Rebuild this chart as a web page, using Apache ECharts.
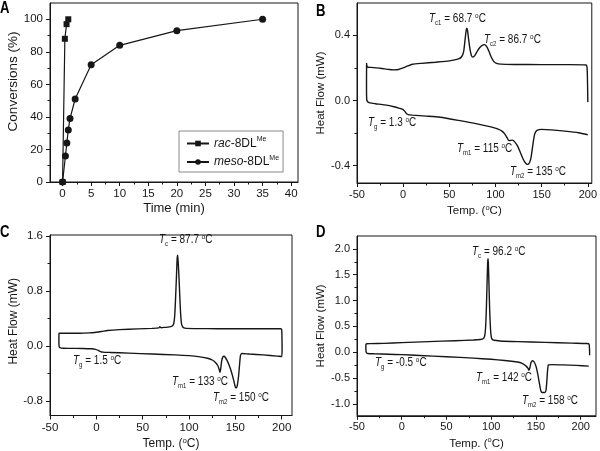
<!DOCTYPE html>
<html><head><meta charset="utf-8">
<script src="https://cdn.jsdelivr.net/npm/echarts@6/dist/echarts.min.js"></script>
<style>html,body{margin:0;padding:0;background:#fff}#c{width:600px;height:451px}</style>
</head><body><div id="c"></div>
<script>
// ---------- Panel A data ----------
const racTime = [0, 0.4, 0.7, 1.0];
const racConv = [0, 88, 97, 100];
const mesoTime = [0, 0.5, 0.75, 1.0, 1.3, 2.2, 5, 10, 20, 35];
const mesoConv = [0, 16, 24, 32, 39, 51, 72, 84, 93, 100];
const timeMajor = [0, 5, 10, 15, 20, 25, 30, 35, 40];
const timeMinor = [2.5, 7.5, 12.5, 17.5, 22.5, 27.5, 32.5, 37.5];
const convMajor = [0, 20, 40, 60, 80, 100];
const convMinor = [10, 30, 50, 70, 90];

// ---------- DSC ticks ----------
const tempMajor = [-50, 0, 50, 100, 150, 200];
const tempMinor = [-25, 25, 75, 125, 175];
const heatMajorB = [-0.4, 0, 0.4];
const heatMinorB = [-0.2, 0.2];
const heatMajorC = [-0.8, 0, 0.8, 1.6];
const heatMinorC = [-0.4, 0.4, 1.2];
const heatMajorD = [-1, -0.5, 0, 0.5, 1, 1.5, 2];
const heatMinorD = [-0.75, -0.25, 0.25, 0.75, 1.25, 1.75];

// ---------- Panel B trace [temp, heat flow] ----------
const dscB = [
[200,-0.01],[199.7,0.1],[199.2,0.2],[198,0.218],[180,0.22],[150,0.22],[120,0.221],[106,0.223],[101,0.228],[98,0.24],[95.5,0.265],[93,0.3],[90.5,0.33],[88,0.343],[86,0.34],[83,0.325],[80,0.3],[77.5,0.275],[75.5,0.267],[74,0.275],[72.5,0.31],[71,0.37],[69.7,0.43],[68.9,0.443],[68,0.42],[66.8,0.36],[65.5,0.3],[63.5,0.27],[60,0.255],[50,0.243],[35,0.235],[20,0.228],[10,0.222],[5,0.212],[0,0.2],[-5,0.19],[-10,0.188],[-15,0.19],[-25,0.198],[-35,0.203],[-38.5,0.205],[-39.4,0.215],[-39.6,0.228],[-39.7,0.1],[-39.5,0.01],[-38.5,-0.008],[-36,-0.015],[-30,-0.02],[-20,-0.027],[-10,-0.038],[-4,-0.048],[0,-0.056],[2,-0.068],[3.5,-0.08],[5.5,-0.087],[10,-0.09],[25,-0.096],[40,-0.103],[60,-0.122],[80,-0.143],[95,-0.162],[103,-0.175],[107,-0.188],[110,-0.205],[112.5,-0.228],[114.5,-0.246],[116,-0.245],[118.5,-0.243],[121,-0.255],[124,-0.28],[127,-0.32],[130,-0.36],[132.5,-0.383],[134.5,-0.392],[136.5,-0.385],[138.5,-0.35],[140.5,-0.27],[142.5,-0.205],[145,-0.183],[150,-0.177],[160,-0.18],[175,-0.188],[190,-0.198],[200,-0.21]
];
// ---------- Panel C trace ----------
const dscC = [
[-38.5,-0.03],[-30,-0.035],[-15,-0.037],[-5,-0.042],[-1,-0.05],[2,-0.065],[4.5,-0.082],[7,-0.09],[15,-0.095],[35,-0.105],[60,-0.118],[85,-0.13],[100,-0.142],[112,-0.16],[120,-0.18],[125,-0.205],[128.5,-0.24],[131,-0.285],[132.5,-0.34],[133.4,-0.385],[134.2,-0.33],[135.2,-0.22],[136.5,-0.16],[137.7,-0.15],[139,-0.165],[141,-0.21],[143.5,-0.29],[146,-0.39],[148,-0.49],[149.5,-0.58],[150.7,-0.615],[152,-0.58],[153.3,-0.46],[154.5,-0.28],[155.5,-0.14],[157,-0.11],[165,-0.118],[180,-0.13],[195,-0.148],[200,-0.155],[200.4,-0.05],[200.3,0.1],[200,0.235],[199,0.25],[185,0.25],[160,0.25],[130,0.251],[110,0.252],[97,0.255],[94.5,0.262],[93,0.28],[91.8,0.33],[90.8,0.5],[89.8,0.8],[88.8,1.1],[88,1.28],[87.6,1.32],[87.1,1.25],[86.4,1.0],[85.5,0.7],[84.6,0.45],[83.6,0.33],[82,0.29],[79,0.278],[74,0.27],[70,0.265],[68.5,0.28],[67.5,0.262],[60,0.255],[45,0.248],[25,0.237],[12,0.225],[6,0.212],[0,0.2],[-8,0.19],[-18,0.185],[-30,0.185],[-39.5,0.185],[-40.3,0.175],[-40.4,0.05],[-40,-0.015],[-38.5,-0.03]
];
// ---------- Panel D trace ----------
const dscD = [
[210,-0.06],[209.8,0.08],[209.3,0.155],[207,0.168],[190,0.175],[160,0.19],[130,0.205],[110,0.218],[103,0.23],[101,0.25],[100,0.3],[99.2,0.45],[98.3,0.8],[97.5,1.3],[96.8,1.72],[96.4,1.81],[96,1.72],[95.3,1.3],[94.5,0.8],[93.6,0.45],[92.5,0.3],[91,0.26],[88,0.245],[80,0.235],[60,0.222],[30,0.205],[0,0.185],[-20,0.17],[-35,0.165],[-39,0.163],[-40,0.15],[-40.1,0.05],[-39.6,-0.005],[-38,-0.025],[-30,-0.032],[-15,-0.04],[0,-0.048],[20,-0.063],[50,-0.088],[80,-0.115],[100,-0.138],[115,-0.16],[125,-0.18],[132,-0.2],[136,-0.23],[139,-0.27],[141,-0.31],[142.2,-0.35],[143.2,-0.3],[144.5,-0.2],[146.3,-0.165],[148,-0.19],[150,-0.27],[152,-0.42],[154,-0.62],[155.5,-0.75],[157,-0.78],[160,-0.78],[161.3,-0.73],[162.2,-0.55],[163,-0.35],[164,-0.245],[168,-0.24],[180,-0.245],[195,-0.255],[209,-0.27]
];

// ---------- annotations [subscript, value] ----------
const annB = [['c1','68.7'],['c2','86.7'],['g','1.3'],['m1','115'],['m2','135']];
const annC = [['c','87.7'],['g','1.5'],['m1','133'],['m2','150']];
const annD = [['c','96.2'],['g','-0.5'],['m1','142'],['m2','158']];

const FONT = '"Liberation Sans", Arial, Helvetica, sans-serif';
const INK = '#161616';

function nameRich(fs) {
  return {
    n: {fontSize: fs, fontFamily: FONT, color: INK, lineHeight: fs + 3},
    o: {fontSize: fs * 0.65, fontFamily: FONT, color: INK, lineHeight: fs * 0.65, verticalAlign: 'top'}
  };
}

function xAxes(g, min, max, major, minor, name, gap, tfs, nfs) {
  return [{
    type: 'value', gridIndex: g, position: 'bottom', min: min, max: max,
    axisLine: {show: true, onZero: false, lineStyle: {color: INK, width: 1}},
    axisTick: {show: true, customValues: major, length: 4, lineStyle: {color: INK}},
    axisLabel: {show: true, customValues: major, color: INK, fontSize: tfs, fontFamily: FONT, margin: 6},
    splitLine: {show: false},
    name: name, nameLocation: 'middle', nameGap: gap,
    nameTextStyle: {fontSize: nfs, fontFamily: FONT, color: INK, rich: nameRich(nfs)}
  }, {
    type: 'value', gridIndex: g, position: 'bottom', min: min, max: max,
    axisLine: {show: false, onZero: false},
    axisTick: {show: true, customValues: minor, length: 2.5, lineStyle: {color: INK}},
    axisLabel: {show: false}, splitLine: {show: false}
  }];
}
function yAxes(g, min, max, major, minor, name, gap, fmt, tfs, nfs, shift) {
  return [{
    type: 'value', gridIndex: g, position: 'left', min: min, max: max,
    axisLine: {show: true, onZero: false, lineStyle: {color: INK, width: 1}},
    axisTick: {show: true, customValues: major, length: 4, lineStyle: {color: INK}},
    axisLabel: {show: true, customValues: major, color: INK, fontSize: tfs, fontFamily: FONT, margin: 7, formatter: fmt},
    splitLine: {show: false},
    name: name, nameLocation: 'middle', nameGap: gap,
    nameTextStyle: {fontSize: nfs, fontFamily: FONT, color: INK, padding: [0, 0, 0, shift || 0]}
  }, {
    type: 'value', gridIndex: g, position: 'left', min: min, max: max,
    axisLine: {show: false, onZero: false},
    axisTick: {show: true, customValues: minor, length: 2.5, lineStyle: {color: INK}},
    axisLabel: {show: false}, splitLine: {show: false}
  }];
}
const f1 = v => v.toFixed(1);
const f0 = v => String(v);
const tempName = '{n|Temp. (}{o|o}{n|C)}';

const grids = [
  {left: 50, top: 3, width: 248, height: 179},
  {left: 357, top: 3, width: 236, height: 180},
  {left: 50, top: 235, width: 242, height: 181},
  {left: 357, top: 236, width: 239, height: 181}
].map(g => Object.assign(g, {show: true, borderColor: INK, borderWidth: 1, backgroundColor: 'transparent'}));

const xAxis = [].concat(
  xAxes(0, -2.2, 41.2, timeMajor, timeMinor, 'Time (min)', 20, 11.5, 13),
  xAxes(1, -50, 204.3, tempMajor, tempMinor, tempName, 21, 11, 11.5),
  xAxes(2, -50, 211.1, tempMajor, tempMinor, tempName, 21, 11.5, 12),
  xAxes(3, -50, 217.1, tempMajor, tempMinor, tempName, 21, 11, 11.5)
);
const yAxis = [].concat(
  yAxes(0, 0, 110, convMajor, convMinor, 'Conversions (%)', 28, f0, 11.5, 13.5, 22),
  yAxes(1, -0.506, 0.598, heatMajorB, heatMinorB, 'Heat Flow (mW)', 30, f1, 11, 11.5, 0),
  yAxes(2, -1.013, 1.615, heatMajorC, heatMinorC, 'Heat Flow (mW)', 29, f1, 11.5, 12, 8),
  yAxes(3, -1.231, 2.25, heatMajorD, heatMinorD, 'Heat Flow (mW)', 30, f1, 11, 11.5, 0)
);

function dscSeries(p, data) {
  return {type: 'line', xAxisIndex: 2 * p, yAxisIndex: 2 * p, data: data, showSymbol: false, symbol: 'none',
    smooth: 0.2, lineStyle: {color: INK, width: 1.4}, silent: true};
}

const AFS = 12.5;
const RICH = {
  t: {fontStyle: 'italic', fontSize: AFS, fontFamily: FONT, fill: INK, color: INK, lineHeight: 15},
  n: {fontSize: AFS, fontFamily: FONT, fill: INK, color: INK, lineHeight: 15},
  s: {fontSize: 7.5, fontFamily: FONT, fill: INK, color: INK, lineHeight: 7, verticalAlign: 'bottom'},
  o: {fontSize: 8, fontFamily: FONT, fill: INK, color: INK, lineHeight: 8, verticalAlign: 'top'}
};
function annText(a, x, y) {
  return {type: 'text', x: x, y: y, z: 10, scaleX: 0.8,
    style: {text: '{t|T}{s|' + a[0] + '}{n| = ' + a[1] + ' }{o|o}{n|C}', rich: RICH, verticalAlign: 'middle', align: 'left'}};
}
const annPos = {
  B: [[429, 19], [484, 40], [368, 123], [457, 149], [510, 172]],
  C: [[159, 240], [73, 361], [172, 382], [213, 398]],
  D: [[472, 252], [375, 363], [476, 378], [522, 401]]
};
const graphics = [];
annB.forEach((a, i) => graphics.push(annText(a, annPos.B[i][0], annPos.B[i][1])));
annC.forEach((a, i) => graphics.push(annText(a, annPos.C[i][0], annPos.C[i][1])));
annD.forEach((a, i) => graphics.push(annText(a, annPos.D[i][0], annPos.D[i][1])));
[['A', 0, 1], ['B', 316, 4], ['C', 0, 225], ['D', 316, 225]].forEach(l => graphics.push({
  type: 'text', x: l[1], y: l[2], z: 10, scaleX: 0.82,
  style: {text: l[0], font: 'bold 16px "Liberation Sans", Arial', fill: '#000', verticalAlign: 'top'}
}));

const chart = echarts.init(document.getElementById('c'), null, {renderer: 'canvas'});
chart.setOption({
  animation: false,
  backgroundColor: '#fff',
  textStyle: {fontFamily: FONT},
  grid: grids,
  xAxis: xAxis,
  yAxis: yAxis,
  legend: {
    left: 179, top: 131, orient: 'vertical', selectedMode: false,
    borderColor: '#8a8a8a', borderWidth: 1, padding: [5, 4, 4, 7], itemGap: 5,
    itemWidth: 22, itemHeight: 7,
    data: ['rac-8DLMe', 'meso-8DLMe'],
    formatter: n => n === 'rac-8DLMe' ? '{i|rac}{n|-8DL}{s|Me}' : '{i|meso}{n|-8DL}{s|Me}',
    textStyle: {color: INK, rich: {
      i: {fontStyle: 'italic', fontSize: 12, fontFamily: FONT, color: INK, lineHeight: 15},
      n: {fontSize: 12, fontFamily: FONT, color: INK, lineHeight: 15},
      s: {fontSize: 7, fontFamily: FONT, color: INK, lineHeight: 7, verticalAlign: 'top'}
    }}
  },
  graphic: graphics,
  series: [
    {type: 'line', name: 'rac-8DLMe', xAxisIndex: 0, yAxisIndex: 0,
      data: racTime.map((t, i) => [t, racConv[i]]), symbol: 'rect', symbolSize: 6,
      lineStyle: {color: INK, width: 1.2}, itemStyle: {color: INK}, z: 3},
    {type: 'line', name: 'meso-8DLMe', xAxisIndex: 0, yAxisIndex: 0,
      data: mesoTime.map((t, i) => [t, mesoConv[i]]), symbol: 'circle', symbolSize: 7,
      lineStyle: {color: INK, width: 1.2}, itemStyle: {color: INK}, z: 2},
    dscSeries(1, dscB), dscSeries(2, dscC), dscSeries(3, dscD)
  ]
});
</script></body></html>
